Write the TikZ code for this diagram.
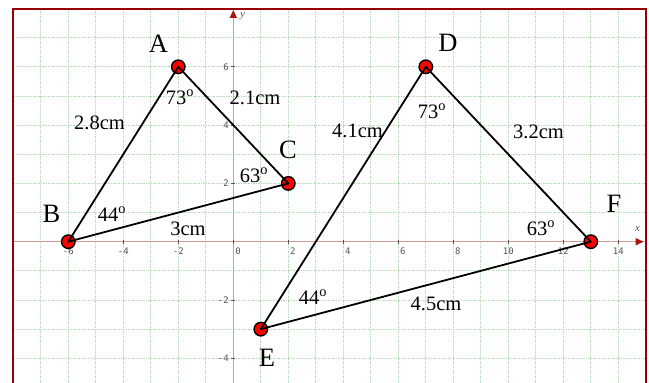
\documentclass[tikz,border=0pt]{standalone}
\usepackage{fontspec}
\setmainfont{Liberation Serif}
\newfontfamily\tickfont{DejaVu Sans Mono}
\usetikzlibrary{arrows.meta}
\definecolor{framered}{RGB}{150,0,0}
\definecolor{axispink}{RGB}{212,155,155}
\definecolor{arrowred}{RGB}{170,20,20}
\definecolor{gridgreen}{RGB}{185,218,185}
\definecolor{ticklabel}{RGB}{85,85,85}
\begin{document}
\begin{tikzpicture}[x=1pt,y=-1pt,
  gridline/.style={gridgreen, line width=0.9pt, dash pattern=on 1.5pt off 1pt},
  axisline/.style={axispink, line width=1.5pt},
  ptnode/.style={circle, fill=red, draw=black, line width=1.4pt, minimum size=13.5pt, inner sep=0pt},
  seg/.style={black, line width=1.8pt, line cap=round},
  biglab/.style={font=\fontsize{26.5}{26.5}\selectfont, inner sep=0pt},
  meas/.style={font=\fontsize{20.5}{20.5}\selectfont, inner sep=0pt},
  ticklab/.style={font=\tickfont\fontsize{9}{9}\selectfont, text=ticklabel, inner sep=0pt},
  axlab/.style={font=\itshape\fontsize{11}{11}\selectfont, text=ticklabel, inner sep=0pt},
  tickmark/.style={ticklabel, line width=0.8pt}]

\useasboundingbox[fill=white] (0,0) rectangle (649,383);

\begin{scope}[shift={(233.3,241.7)}, x=27.5pt, y=29.15pt]
  % grid
  \foreach \i in {-7,...,14} \draw[gridline] (\i,8) -- (\i,-4.9);
  \foreach \j in {-4,...,7} \draw[gridline] (-8,\j) -- (15,\j);
  % axes
  \draw[axisline, -{Triangle[length=8pt,width=7pt,color=arrowred]}] (-8,0) -- (14.92,0);
  \draw[axisline, -{Triangle[length=8pt,width=7pt,color=arrowred]}] (0,-4.9) -- (0,7.95);
  % ticks
  \foreach \i in {-6,-4,...,14} \draw[tickmark] (\i,0) ++(0,2pt) -- ++(0,-4pt);
  \foreach \j in {-4,-2,2,4,6} \draw[tickmark] (0,\j) ++(-2pt,0) -- ++(4pt,0);
  % tick labels
  \foreach \v/\dx [count=\k] in {-6/0,-4/0,-2/0,2/4.5,4/4.5,6/4.5,8/4.5,10/0,12/0,14/0}
    \node[ticklab, xshift=\dx pt, yshift=-9.5pt] (tx\k) at (\v,0) {\v};
  \node[ticklab, xshift=4.7pt, yshift=-9.5pt] (tx0) at (0,0) {0};
  \foreach \v [count=\k] in {-4,-2,2,4,6}
    \node[ticklab, anchor=east, xshift=-4.3pt] (ty\k) at (0,\v) {\v};
  % frame
  \draw[framered, line width=2pt] (-8,-4.9) -- (-8,8) -- (15,8) -- (15,-4.9);
  % points
  \node[ptnode] (A) at (-2,6) {};
  \node[ptnode] (B) at (-6,0) {};
  \node[ptnode] (C) at (2,2) {};
  \node[ptnode] (D) at (7,6) {};
  \node[ptnode] (E) at (1,-3) {};
  \node[ptnode] (F) at (13,0) {};
  % segments
  \draw[seg] (A.center) -- (B.center);
  \draw[seg] (B.center) -- (C.center);
  \draw[seg] (C.center) -- (A.center);
  \draw[seg] (D.center) -- (E.center);
  \draw[seg] (E.center) -- (F.center);
  \draw[seg] (F.center) -- (D.center);
\end{scope}

% axis names
\node[axlab] (xl) at (637.5,229) {x};
\node[axlab] (yl) at (242.5,16) {y};

% vertex letters
\node[biglab] (lA) at (158.5,43.5) {A};
\node[biglab] (lB) at (51.5,214) {B};
\node[biglab] (lC) at (288,150) {C};
\node[biglab] (lD) at (448,42.5) {D};
\node[biglab] (lE) at (267,358) {E};
\node[biglab] (lF) at (614,204) {F};

% angles
\node[meas] (aA) at (180,97) {73\textsuperscript{o}};
\node[meas] (aC) at (254,175) {63\textsuperscript{o}};
\node[meas] (aB) at (112,214) {44\textsuperscript{o}};
\node[meas] (aD) at (432,111) {73\textsuperscript{o}};
\node[meas] (aF) at (541,228) {63\textsuperscript{o}};
\node[meas] (aE) at (313,297) {44\textsuperscript{o}};

% lengths
\node[meas] (mAB) at (99.5,123) {2.8cm};
\node[meas] (mAC) at (255,98) {2.1cm};
\node[meas] (mBC) at (188,229) {3cm};
\node[meas] (mDE) at (357.5,131) {4.1cm};
\node[meas] (mDF) at (538.5,132) {3.2cm};
\node[meas] (mEF) at (436,304) {4.5cm};
\end{tikzpicture}
\end{document}
